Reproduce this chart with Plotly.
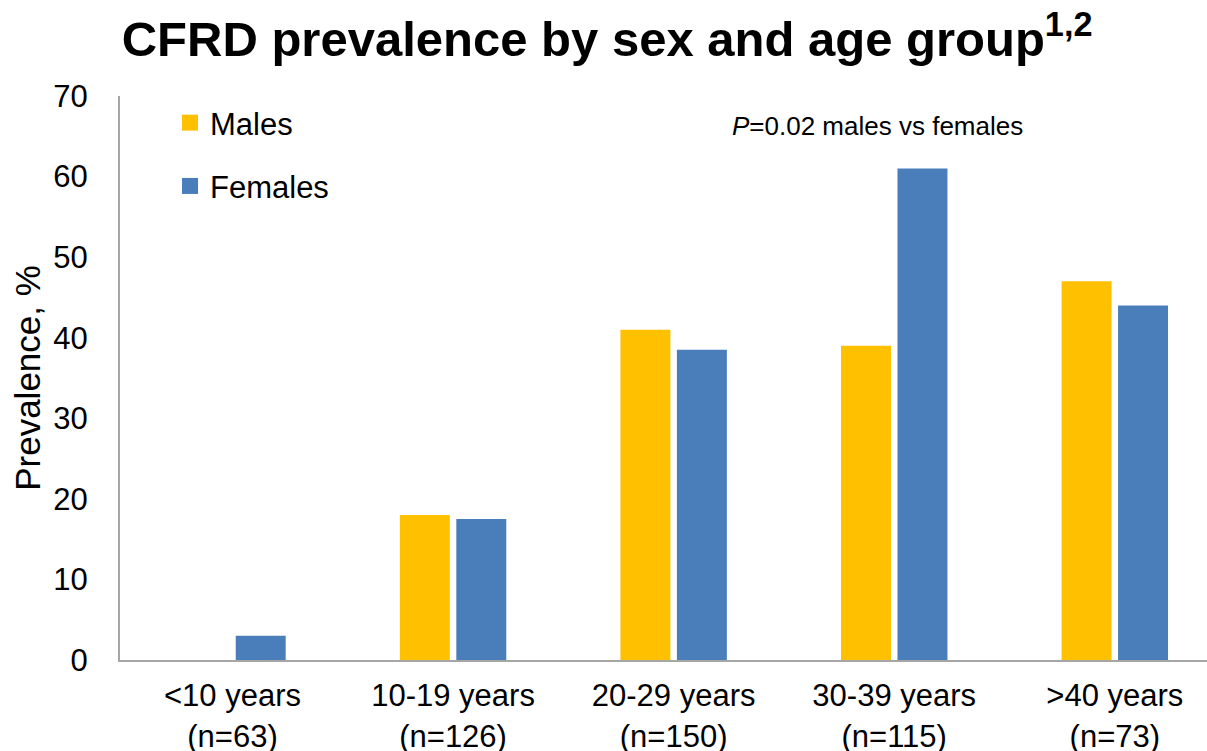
import plotly.graph_objects as go

categories = ["<10 years<br>(n=63)", "10-19 years<br>(n=126)", "20-29 years<br>(n=150)",
              "30-39 years<br>(n=115)", ">40 years<br>(n=73)"]
males = [None, 18.0, 41.0, 39.0, 47.0]
females = [3.0, 17.5, 38.5, 61.0, 44.0]
y_ticks = [0, 10, 20, 30, 40, 50, 60, 70]

GOLD = "#FFC000"
BLUE = "#4A7EBB"
FONT = "Liberation Sans, Arial, sans-serif"

fig = go.Figure()
fig.add_trace(go.Bar(x=list(range(len(categories))), y=males, name="Males",
                     marker=dict(color=GOLD, line=dict(width=0)),
                     legendgroup="m", showlegend=False))
fig.add_trace(go.Bar(x=list(range(len(categories))), y=females, name="Females",
                     marker=dict(color=BLUE, line=dict(width=0)),
                     legendgroup="f", showlegend=False))
# legend entries (no visible marks in the plot)
fig.add_trace(go.Scatter(x=[None], y=[None], mode="markers", name="Males",
                         marker=dict(symbol="square", size=16, color=GOLD),
                         legendgroup="m"))
fig.add_trace(go.Scatter(x=[None], y=[None], mode="markers", name="Females",
                         marker=dict(symbol="square", size=16, color=BLUE),
                         legendgroup="f"))

fig.update_layout(
    width=1207, height=751,
    margin=dict(l=120, r=0, t=96, b=91, autoexpand=False),
    paper_bgcolor="white", plot_bgcolor="white",
    font=dict(family=FONT, color="black"),
    barmode="group", bargap=0.488, bargroupgap=0.115,
    title=dict(text="<b>CFRD prevalence by sex and age group<sup>1,2</sup></b>",
               x=0.503, xref="container", xanchor="center",
               y=0.948, yref="container", yanchor="middle",
               font=dict(size=49, family=FONT, color="black")),
    legend=dict(x=0.046, y=1.0, xanchor="left", yanchor="top",
                font=dict(size=31, family=FONT), tracegroupgap=20,
                bgcolor="rgba(0,0,0,0)"),
    showlegend=True,
    xaxis=dict(tickmode="array", tickvals=list(range(len(categories))), ticktext=categories,
               range=[-0.51, 4.418], showgrid=False, zeroline=False, automargin=False,
               showline=True, linecolor="#A6A6A6", linewidth=2,
               ticks="outside", ticklen=7, tickcolor="rgba(0,0,0,0)",
               tickfont=dict(size=31, family=FONT)),
    yaxis=dict(range=[0, 70], tickvals=y_ticks, showgrid=False, zeroline=False, automargin=False,
               showline=True, linecolor="#A6A6A6", linewidth=2,
               ticks="outside", ticklen=24, tickcolor="rgba(0,0,0,0)",
               tickfont=dict(size=31, family=FONT),
               title=dict(text="Prevalence, %", font=dict(size=35, family=FONT), standoff=2)),
)

fig.add_annotation(text="<i>P</i>=0.02 males vs females", xref="paper", yref="paper",
                   x=0.561, y=0.947, xanchor="left", yanchor="middle", showarrow=False,
                   font=dict(size=26, family=FONT, color="black"))

fig.write_html("out.html")
